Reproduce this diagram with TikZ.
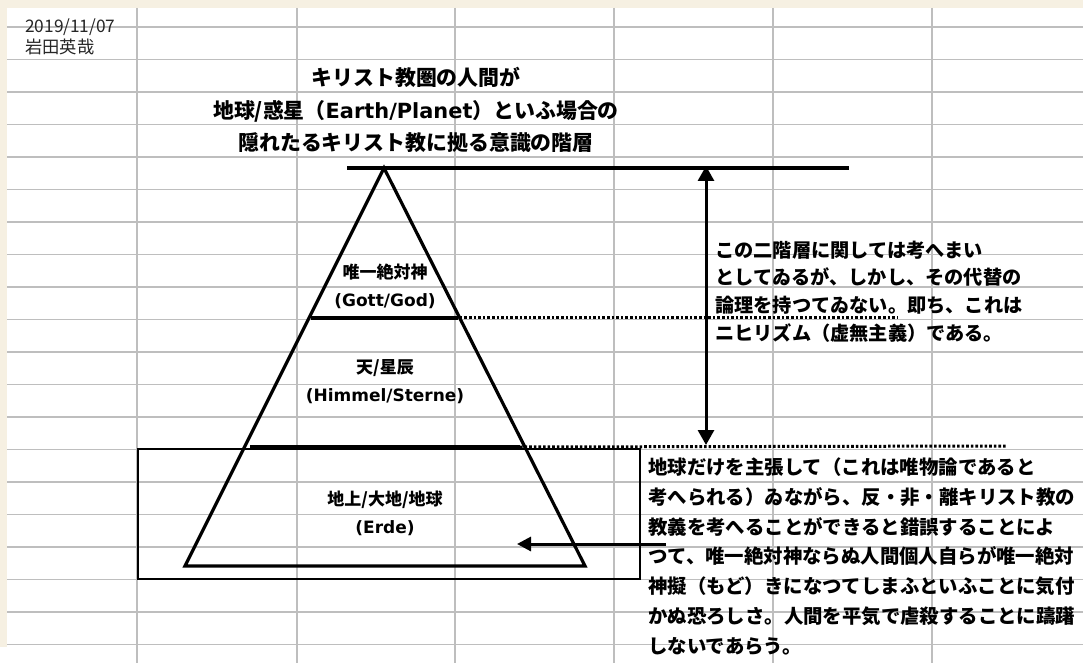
\documentclass[tikz,border=0pt]{standalone}
\usepackage{fontspec}
\newfontfamily\jp{Noto Sans CJK JP}
\newfontfamily\lat{DejaVu Sans}
\usetikzlibrary{arrows.meta}
\definecolor{beige}{RGB}{246,240,226}
\definecolor{gridc}{RGB}{190,190,190}
\tikzset{
  gridline/.style={draw=gridc, line width=1.2pt},
  thickline/.style={draw=black, line width=3.2pt},
  dotline/.style={draw=black, line width=3pt, dash pattern=on 2.6pt off 2pt},
  label/.style={font={\jp\bfseries\fontsize{17}{28}\selectfont}, align=center, inner sep=0pt},
  bodytext/.style={font={\jp\bfseries\fontsize{19.2}{27.7}\selectfont}, align=left, inner sep=0pt, anchor=west},
  titletext/.style={font={\jp\bfseries\fontsize{20.9}{32.5}\selectfont}, align=center, inner sep=0pt},
}
\begin{document}
\begin{tikzpicture}[x=1pt,y=-1pt]
\useasboundingbox (0,0) rectangle (1083,663);
\fill[beige] (0,0) rectangle (1083,663);
\fill[white] (7,8) rectangle (1083,663);
\fill[white] (0,647) rectangle (7,663);
% grid
\foreach \k in {0,...,19} { \draw[gridline] (7,27+32.5*\k) -- (1083,27+32.5*\k); }
\foreach \xx in {137,297,455,614,773,932} { \draw[gridline] (\xx,8) -- (\xx,663); }
% date
\node[font={\jp\fontsize{17.3}{21}\selectfont}, align=left, inner sep=0pt, anchor=west, text=black!85] (date) at (25,37) {2019/11/07\\岩田英哉};
% title
\node[titletext] (title) at (416,110) {キリスト教圏の人間が\\地球/惑星（{\lat Earth/Planet}）といふ場合の\\隠れたるキリスト教に拠る意識の階層};
% pyramid
\coordinate (apex) at (384,168);
\coordinate (bl) at (185,566);
\coordinate (br) at (585,566);
\draw[thickline, line join=miter] (apex) -- (bl) -- (br) -- cycle;
\coordinate (topL) at (347,168);
\coordinate (topR) at (849,168);
\draw[thickline] (topL) -- (topR);
\coordinate (l1L) at (311,318);
\coordinate (l1R) at (458,318);
\draw[thickline] (l1L) -- (l1R);
\coordinate (d1L) at (400,317);
\coordinate (d1R) at (898,317);
\draw[dotline] (d1L) -- (d1R);
\coordinate (l2L) at (250,447);
\coordinate (l2R) at (520,447);
\draw[thickline] (l2L) -- (l2R);
\coordinate (d2R) at (1007,446);
\draw[dotline] (l2R) -- (d2R);
% box
\draw[line width=1.3pt] (138,449) rectangle (640,579);
% labels
\node[label] (god) at (385,286) {唯一絶対神\\{\lat (Gott/God)}};
\node[label] (sky) at (385,382) {天/星辰\\{\lat (Himmel/Sterne)}};
\node[label] (earth) at (385,513) {地上/大地/地球\\{\lat (Erde)}};
% vertical arrow
\coordinate (vaT) at (706,166);
\coordinate (vaB) at (706,445);
\draw[line width=3pt, {Triangle[length=15pt,width=16pt]}-{Triangle[length=15pt,width=16pt]}] (vaT) -- (vaB);
% texts
\node[bodytext] (t1) at (715,291.5) {この二階層に関しては考へまい\\としてゐるが、しかし、その代替の\\論理を持つてゐない。即ち、これは\\ニヒリズム（虚無主義）である。};
\node[bodytext, font={\jp\bfseries\fontsize{19.4}{29.8}\selectfont}] (t2) at (648,556.5) {地球だけを主張して（これは唯物論であると\\考へられる）ゐながら、反・非・離キリスト教の\\教義を考へることができると錯誤することによ\\つて、唯一絶対神ならぬ人間個人自らが唯一絶対\\神擬（もど）きになつてしまふといふことに気付\\かぬ恐ろしさ。人間を平気で虐殺することに躊躇\\しないであらう。};
% left arrow
\coordinate (laS) at (666,544);
\coordinate (laE) at (517,544);
\draw[line width=3pt, -{Triangle[length=14pt,width=14pt]}] (laS) -- (laE);
\end{tikzpicture}
\end{document}
